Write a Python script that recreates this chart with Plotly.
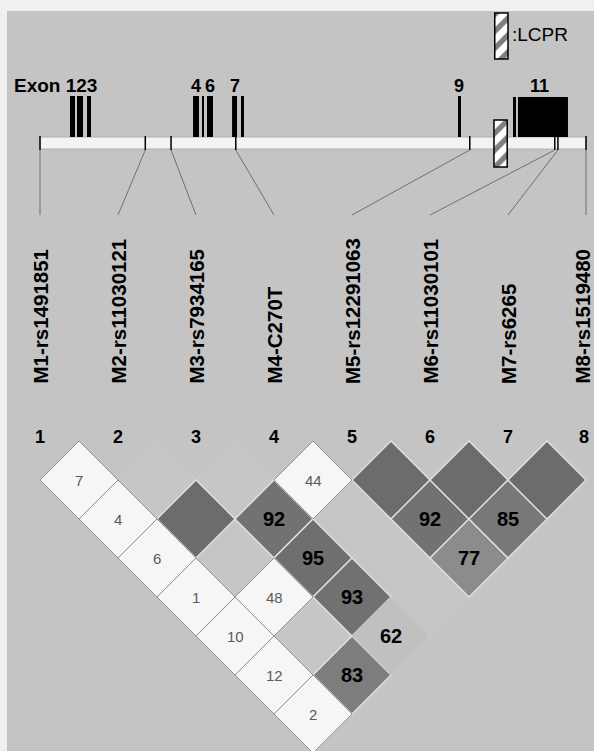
import numpy as np
import plotly.graph_objects as go

# ---------------- data ----------------
gene_start_kb = 0.0
gene_end_kb = 70.0

marker_names = ["M1-rs1491851", "M2-rs11030121", "M3-rs7934165", "M4-C270T",
                "M5-rs12291063", "M6-rs11030101", "M7-rs6265", "M8-rs1519480"]
marker_pos_kb = [0.0, 13.5, 16.8, 25.1, 55.1, 66.0, 66.4, 70.0]

exon_names = ["1", "2", "3", "4", "5", "6", "7", "8", "9", "10", "11"]
exon_start_kb = [3.85, 4.74, 6.03, 19.62, 20.77, 21.41, 24.62, 25.77, 53.59, 60.64, 61.28]
exon_end_kb = [4.49, 5.51, 6.54, 20.38, 21.03, 22.18, 25.26, 26.15, 53.97, 61.03, 67.69]
exon_labels = ["", "", "", "4", "", "6", "7", "", "9", "", "11"]

lcpr_start_kb = 58.2
lcpr_end_kb = 59.9

# pairwise LD (D' x 100) and LOD>=2 flag, marker indices are 1-based
pair_i = [1, 1, 1, 1, 1, 1, 1, 2, 2, 2, 2, 2, 2, 3, 3, 3, 3, 3, 4, 4, 4, 4, 5, 5, 5, 6, 6, 7]
pair_j = [2, 3, 4, 5, 6, 7, 8, 3, 4, 5, 6, 7, 8, 4, 5, 6, 7, 8, 5, 6, 7, 8, 6, 7, 8, 7, 8, 8]
dprime = [7, 4, 6, 1, 10, 12, 2, 100, 100, 100, 48, 100, 83, 100, 92, 95, 93, 62,
          44, 100, 100, 100, 100, 92, 77, 100, 85, 100]
lod_ge2 = [0, 0, 0, 0, 0, 0, 0, 0, 1, 0, 0, 0, 1, 0, 1, 1, 1, 1,
           0, 0, 0, 0, 1, 1, 1, 1, 1, 1]

# ---------------- style / layout constants ----------------
W, H = 594, 751
PX_PER_KB = 7.8
X0_PX = 40.0
BG = "#c4c4c4"
FONT = "Liberation Sans, Arial, sans-serif"
BAR_TOP, BAR_BOT = 137, 149
EXON_TOP = 96
LD_ROW0 = 480.0

fig = go.Figure()
shapes = []
annotations = []

# scan-like pale border (top and left)
shapes.append(dict(type="rect", xref="paper", yref="paper", x0=0, x1=1, y0=1 - 11 / H, y1=1,
                   fillcolor="#f0f0f0", line=dict(width=0), layer="below"))
shapes.append(dict(type="rect", xref="paper", yref="paper", x0=0, x1=7 / W, y0=0, y1=1,
                   fillcolor="#f0f0f0", line=dict(width=0), layer="below"))

# gene bar
shapes.append(dict(type="rect", xref="x", yref="y", x0=gene_start_kb, x1=gene_end_kb,
                   y0=BAR_TOP, y1=BAR_BOT, fillcolor="#f3f3f3",
                   line=dict(color="#b0b0b0", width=1), layer="below"))

# exons
for s, e, nm in zip(exon_start_kb, exon_end_kb, exon_names):
    top = EXON_TOP + (1 if nm in ("10", "11") else 0)
    shapes.append(dict(type="rect", xref="x", yref="y", x0=s, x1=e, y0=top, y1=BAR_TOP,
                       fillcolor="black", line=dict(width=0)))
for s, e, lab in zip(exon_start_kb, exon_end_kb, exon_labels):
    if lab:
        annotations.append(dict(x=(s + e) / 2, y=86, xref="x", yref="y", text=lab,
                                xshift=-3 if lab == "11" else 0,
                                showarrow=False, font=dict(family=FONT, size=18, color="black", weight="bold")))
annotations.append(dict(x=exon_end_kb[2] + 1.0, y=85, xref="x", yref="y", text="Exon 123",
                        xanchor="right", showarrow=False,
                        font=dict(family=FONT, size=19, color="black", weight="bold")))

# LCPR hatched box (gene) and legend box
lc_mid = (lcpr_start_kb + lcpr_end_kb) / 2
lc_w = lcpr_end_kb - lcpr_start_kb
fig.add_trace(go.Bar(x=[lc_mid, lc_mid + 0.1], base=[120, 13], y=[47, 46], width=[lc_w, lc_w],
                     marker=dict(color="white", line=dict(color="black", width=1.5),
                                 pattern=dict(shape="/", fgcolor="black", bgcolor="white",
                                              size=12, solidity=0.45)),
                     hoverinfo="skip", showlegend=False))
annotations.append(dict(x=lcpr_end_kb + 0.35, y=34, xref="x", yref="y", text=":LCPR",
                        xanchor="left", showarrow=False,
                        font=dict(family=FONT, size=19, color="black")))

# marker ticks on the gene bar
slot_kb = np.linspace(gene_start_kb, gene_end_kb, len(marker_names))
for p in marker_pos_kb:
    shapes.append(dict(type="line", xref="x", yref="y", x0=p, x1=p, y0=BAR_TOP - 1, y1=BAR_BOT + 1,
                       line=dict(color="black", width=1.5)))
# connector lines
for p, s in zip(marker_pos_kb, slot_kb):
    shapes.append(dict(type="line", xref="x", yref="y", x0=p, x1=s, y0=BAR_BOT + 1, y1=215,
                       line=dict(color="#707070", width=1)))
# marker names (rotated) and numbers
n_m = len(marker_names)
for k, (nm, s) in enumerate(zip(marker_names, slot_kb)):
    annotations.append(dict(x=s, y=386, xref="x", yref="y", text=nm, textangle=-90,
                            xanchor="center", yanchor="bottom", showarrow=False,
                            xshift=-4 if k == n_m - 1 else 0,
                            font=dict(family=FONT, size=20.5, color="black", weight="bold")))
    annotations.append(dict(x=s, y=437, xref="x", yref="y", text=str(k + 1),
                            showarrow=False, xshift=-2 if k == n_m - 1 else 0,
                            font=dict(family=FONT, size=18, color="black", weight="bold")))

# LD diamonds
half_kb = (slot_kb[1] - slot_kb[0]) / 2
half_px = half_kb * PX_PER_KB


def strong_gray(d):
    g = int(np.interp(d, [60, 77, 85, 92, 100], [199, 140, 120, 114, 108]))
    return f"rgb({g},{g},{g})"


cells = list(zip(pair_i, pair_j, dprime, lod_ge2))
order = sorted(range(len(cells)), key=lambda n: (0 if (not cells[n][3] and cells[n][2] == 100)
                                                  else 1 if cells[n][3] else 2))
for n in order:
    i, j, d, lod = cells[n]
    cx = (slot_kb[i - 1] + slot_kb[j - 1]) / 2
    cy = LD_ROW0 + (j - i - 1) * half_px
    xs = [cx - half_kb, cx, cx + half_kb, cx, cx - half_kb]
    ys = [cy, cy - half_px, cy, cy + half_px, cy]
    if lod:
        fill = strong_gray(d)
        lc, lw = ("#e4e4e4", 1.3) if d >= 70 else ("#cdcdcd", 0.8)
    elif d == 100:
        fill, lc, lw = "#c6c6c6", "#cdcdcd", 0.8
    else:
        fill, lc, lw = "#f6f6f6", "#808080", 0.8
    fig.add_trace(go.Scatter(x=xs, y=ys, mode="lines", fill="toself", fillcolor=fill,
                             line=dict(color=lc, width=lw), hoverinfo="skip", showlegend=False))
    if d < 100:
        if lod:
            f = dict(family=FONT, size=20, color="black", weight="bold")
        else:
            f = dict(family=FONT, size=15, color="#5a5a5a")
        annotations.append(dict(x=cx, y=cy, xref="x", yref="y", text=str(d),
                                showarrow=False, font=f))

fig.update_layout(
    width=W, height=H, margin=dict(l=0, r=0, t=0, b=0),
    paper_bgcolor=BG, plot_bgcolor=BG, barmode="overlay",
    xaxis=dict(range=[(0 - X0_PX) / PX_PER_KB, (W - X0_PX) / PX_PER_KB], visible=False, fixedrange=True),
    yaxis=dict(range=[H, 0], visible=False, fixedrange=True),
    shapes=shapes, annotations=annotations, showlegend=False,
)
fig.write_html("out.html", config={"displayModeBar": False},
               post_script="document.body.style.margin='0';document.body.style.overflow='hidden';")
